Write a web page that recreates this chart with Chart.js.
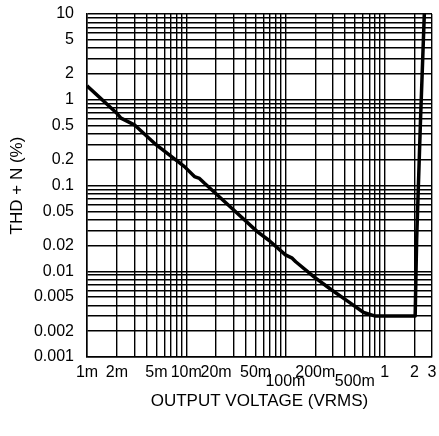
<!DOCTYPE html>
<html>
<head>
<meta charset="utf-8">
<script src="https://cdn.jsdelivr.net/npm/chart.js@4.4.1/dist/chart.umd.min.js"></script>
<style>
  html, body { margin: 0; padding: 0; background: #fff; }
</style>
</head>
<body>
<canvas id="chart" width="439" height="436"></canvas>
<script>
// THD+N vs output voltage
const outputVoltage = [0.001, 0.002, 0.0022, 0.003, 0.005, 0.0096, 0.0121, 0.0136, 0.0153, 0.029, 0.052, 0.068,
  0.1, 0.117, 0.127, 0.194, 0.295, 0.434, 0.614, 0.805, 1.2, 2.03, 2.1, 2.3, 2.51];
const thdN = [1.45, 0.695, 0.61, 0.51, 0.297, 0.166, 0.127, 0.121, 0.106, 0.054, 0.029, 0.023,
  0.0155, 0.0142, 0.0129, 0.0086, 0.006, 0.0044, 0.0033, 0.003, 0.003, 0.003, 0.023, 0.6, 10];

const xTickValues = [0.001, 0.002, 0.005, 0.01, 0.02, 0.05, 0.1, 0.2, 0.5, 1, 2, 3];
const xTickLabels = ['1m', '2m', '5m', '10m', '20m', '50m', '100m', '200m', '500m', '1', '2', '3'];
const xLoweredLabels = ['100m', '500m'];
const yTickValues = [10, 5, 2, 1, 0.5, 0.2, 0.1, 0.05, 0.02, 0.01, 0.005, 0.002, 0.001];
const yTickLabels = ['10', '5', '2', '1', '0.5', '0.2', '0.1', '0.05', '0.02', '0.01', '0.005', '0.002', '0.001'];

const xDecades = [0.001, 0.01, 0.1, 1];
const yDecades = [0.001, 0.01, 0.1, 1];
const FONT = "'Liberation Sans', Arial, sans-serif";

// grid lines at every 1..9 step of each decade
function gridValues(decades, max) {
  const out = [];
  decades.forEach(d => {
    for (let m = 1; m <= 9; m++) {
      if (m * d <= max * 1.000001) out.push(m * d);
    }
  });
  if (out[out.length - 1] < max) out.push(max);
  return out;
}
const xGrid = gridValues(xDecades, 3);
const yGrid = gridValues(yDecades, 10);

function findLabel(value, values, labels) {
  const i = values.findIndex(t => Math.abs(value / t - 1) < 1e-6);
  return i < 0 ? '' : labels[i];
}

function xLabel(value) {
  const text = findLabel(value, xTickValues, xTickLabels);
  return xLoweredLabels.includes(text) ? ['', text] : text;
}

const points = outputVoltage.map((v, i) => ({ x: v, y: thdN[i] }));

new Chart(document.getElementById('chart'), {
  type: 'line',
  data: {
    datasets: [{
      data: points,
      borderColor: '#000',
      borderWidth: 3.5,
      pointRadius: 0,
      fill: false,
      tension: 0,
      borderJoinStyle: 'round'
    }]
  },
  options: {
    responsive: false,
    animation: false,
    devicePixelRatio: 1,
    layout: { padding: { top: 14, right: 7, left: 0, bottom: 0 } },
    plugins: {
      legend: { display: false },
      tooltip: { enabled: false }
    },
    scales: {
      x: {
        type: 'logarithmic',
        min: 0.001,
        max: 3,
        afterBuildTicks: s => { s.ticks = xGrid.map(v => ({ value: v })); },
        afterFit: s => { s.height = 79; s.paddingLeft = 0; s.paddingRight = 0; },
        grid: { color: '#000', lineWidth: 1.4, drawTicks: false },
        border: { color: '#000', width: 1.5 },
        ticks: {
          autoSkip: false,
          maxRotation: 0,
          padding: 11,
          color: '#000',
          font: { family: FONT, size: 16, lineHeight: 0.56 },
          callback: v => xLabel(v)
        },
        title: {
          display: true,
          text: 'OUTPUT VOLTAGE (VRMS)',
          color: '#000',
          font: { family: FONT, size: 17 },
          padding: { top: 0, bottom: 24 }
        }
      },
      y: {
        type: 'logarithmic',
        min: 0.001,
        max: 10,
        afterBuildTicks: s => { s.ticks = yGrid.map(v => ({ value: v })); },
        afterFit: s => { s.width = 87; s.paddingTop = 0; s.paddingBottom = 0; },
        grid: { color: '#000', lineWidth: 1.4, drawTicks: false },
        border: { color: '#000', width: 1.5 },
        ticks: {
          autoSkip: false,
          padding: 13,
          color: '#000',
          font: { family: FONT, size: 16 },
          callback: v => findLabel(v, yTickValues, yTickLabels)
        },
        title: {
          display: true,
          text: 'THD + N (%)',
          color: '#000',
          font: { family: FONT, size: 17 },
          padding: { top: 7, bottom: 0 }
        }
      }
    }
  }
});
</script>
</body>
</html>
